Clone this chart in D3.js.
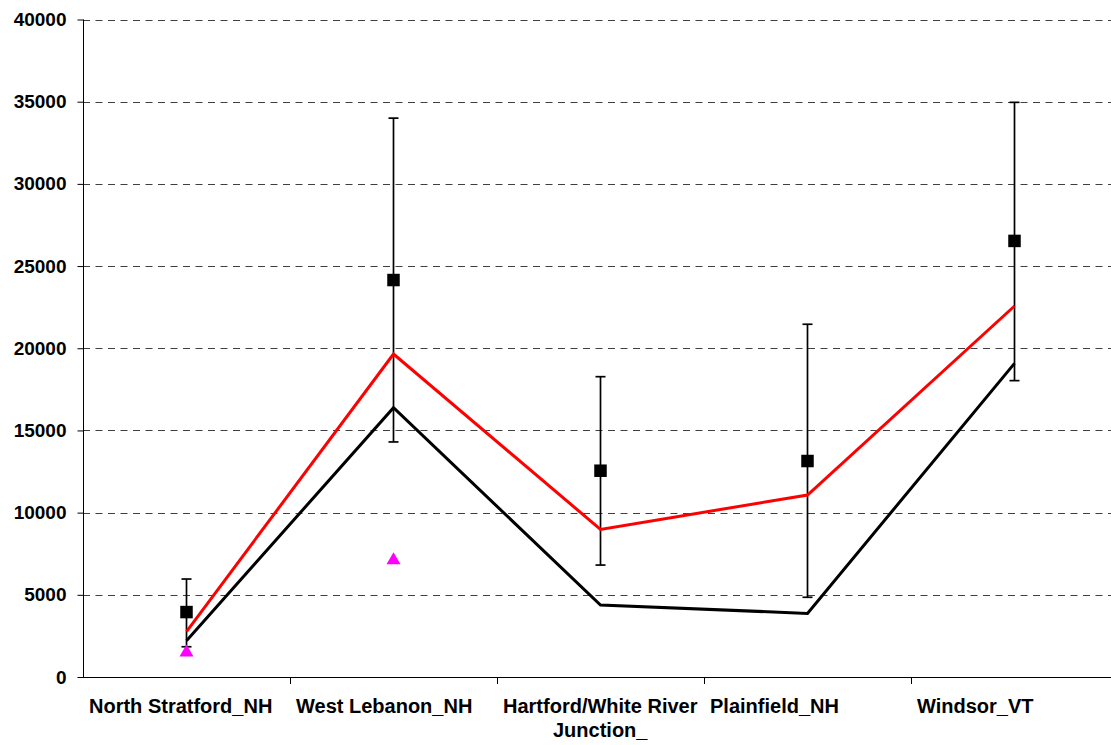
<!DOCTYPE html>
<html>
<head>
<meta charset="utf-8">
<script src="https://cdn.jsdelivr.net/npm/d3@7"></script>
<style>
  html, body { margin: 0; padding: 0; background: #fff; }
  svg { display: block; }
  text { font-family: "Liberation Sans", Arial, sans-serif; font-weight: bold; fill: #000; }
</style>
</head>
<body>
<svg id="chart" width="1111" height="745"></svg>
<script>
// Sites along the river
const categories = ["North Stratford_NH", "West Lebanon_NH", "Hartford/White River Junction_", "Plainfield_NH", "Windsor_VT"];
// Observed values (squares) with their error ranges
const observed = [3950, 24150, 12550, 13140, 26530];
const observedHigh = [5960, 34000, 18270, 21460, 34960];
const observedLow = [1840, 14300, 6810, 4850, 18030];
// Modelled series
const redSeries = [2760, 19650, 8980, 11070, 22570];
const blackSeries = [2210, 16380, 4380, 3870, 19080];
// Additional points (triangles)
const triangleValues = [1580, 7200, null, null, null];
// Axis ticks
const yTicks = [0, 5000, 10000, 15000, 20000, 25000, 30000, 35000, 40000];

const svg = d3.select("#chart");
const plotLeft = 83, plotRight = 1118, plotTop = 19.5, plotBottom = 677;

const x = d3.scaleBand().domain(categories).range([plotLeft, plotRight]).paddingInner(0).paddingOuter(0);
const y = d3.scaleLinear().domain([0, 40000]).range([plotBottom, plotTop]);
const cx = d => x(d) + x.bandwidth() / 2;

// Dashed horizontal gridlines
svg.append("g")
  .selectAll("line")
  .data(yTicks.filter(t => t > 0))
  .join("line")
  .attr("x1", plotLeft).attr("x2", 1111)
  .attr("y1", d => Math.round(y(d)) + 0.5).attr("y2", d => Math.round(y(d)) + 0.5)
  .attr("stroke", "#404040").attr("stroke-width", 1)
  .attr("stroke-dasharray", "7,5.5");

// Y axis
const yAxis = d3.axisLeft(y).tickValues(yTicks).tickSize(6).tickPadding(11).tickFormat(d3.format("d"));
const gy = svg.append("g").attr("transform", `translate(${plotLeft + 0.5},0)`).call(yAxis);
gy.select(".domain").attr("stroke", "#000").attr("d", `M0,${y(40000)}V${plotBottom}`);
gy.selectAll(".tick line").attr("stroke", "#000");
gy.selectAll(".tick text").attr("font-size", 19).attr("font-family", "Liberation Sans, Arial, sans-serif").attr("font-weight", "bold").attr("fill", "#000");

// X axis with ticks on category boundaries
svg.append("line")
  .attr("x1", plotLeft).attr("x2", 1111)
  .attr("y1", plotBottom + 0.5).attr("y2", plotBottom + 0.5)
  .attr("stroke", "#000");
svg.append("g")
  .selectAll("line")
  .data(categories.slice(1))
  .join("line")
  .attr("x1", d => Math.round(x(d)) + 0.5).attr("x2", d => Math.round(x(d)) + 0.5)
  .attr("y1", plotBottom).attr("y2", plotBottom + 7)
  .attr("stroke", "#000");

// Category labels: wrapped to the band width, lines centred within a block
// that starts just inside the left edge of each band
const labels = svg.append("g")
  .selectAll("text")
  .data(categories)
  .join("text")
  .attr("y", 713)
  .attr("font-size", 20);

labels.each(function(d) {
  const t = d3.select(this);
  const words = d.split(" ");
  const lines = [];
  let line = [];
  const probe = t.append("tspan");
  for (const w of words) {
    line.push(w);
    probe.text(line.join(" "));
    if (probe.node().getComputedTextLength() > x.bandwidth() - 8 && line.length > 1) {
      line.pop();
      lines.push(line.join(" "));
      line = [w];
    }
  }
  lines.push(line.join(" "));
  const widths = lines.map(s => { probe.text(s); return probe.node().getComputedTextLength(); });
  probe.remove();
  const blockW = d3.max(widths);
  const x0 = x(d) + 6;
  lines.forEach((s, i) => {
    t.append("tspan")
      .attr("x", x0 + (blockW - widths[i]) / 2)
      .attr("dy", i === 0 ? 0 : 24)
      .text(s);
  });
});

// Error bars
const eb = svg.append("g").attr("stroke", "#000").attr("stroke-width", 1.7);
categories.forEach((c, i) => {
  const xc = cx(c);
  eb.append("line").attr("x1", xc).attr("x2", xc).attr("y1", y(observedHigh[i])).attr("y2", y(observedLow[i]));
  eb.append("line").attr("x1", xc - 5).attr("x2", xc + 5).attr("y1", y(observedHigh[i])).attr("y2", y(observedHigh[i]));
  eb.append("line").attr("x1", xc - 5).attr("x2", xc + 5).attr("y1", y(observedLow[i])).attr("y2", y(observedLow[i]));
});

// Lines
const lineGen = d3.line().x((d, i) => cx(categories[i])).y(d => y(d));
svg.append("path").datum(blackSeries)
  .attr("d", lineGen).attr("fill", "none").attr("stroke", "#000").attr("stroke-width", 3).attr("stroke-linejoin", "miter");
svg.append("path").datum(redSeries)
  .attr("d", lineGen).attr("fill", "none").attr("stroke", "#ff0000").attr("stroke-width", 3).attr("stroke-linejoin", "miter");

// Square markers
const sq = 12.5;
svg.append("g")
  .selectAll("rect")
  .data(observed)
  .join("rect")
  .attr("x", (d, i) => cx(categories[i]) - sq / 2)
  .attr("y", d => y(d) - sq / 2)
  .attr("width", sq).attr("height", sq)
  .attr("fill", "#000");

// Triangle markers
const triPath = "M0,-6.5L7,5.5L-7,5.5Z";
svg.append("g")
  .selectAll("path")
  .data(triangleValues.map((v, i) => ({ v, i })).filter(d => d.v != null))
  .join("path")
  .attr("d", triPath)
  .attr("transform", d => `translate(${cx(categories[d.i])},${y(d.v)})`)
  .attr("fill", "#ff00ff");
</script>
</body>
</html>
